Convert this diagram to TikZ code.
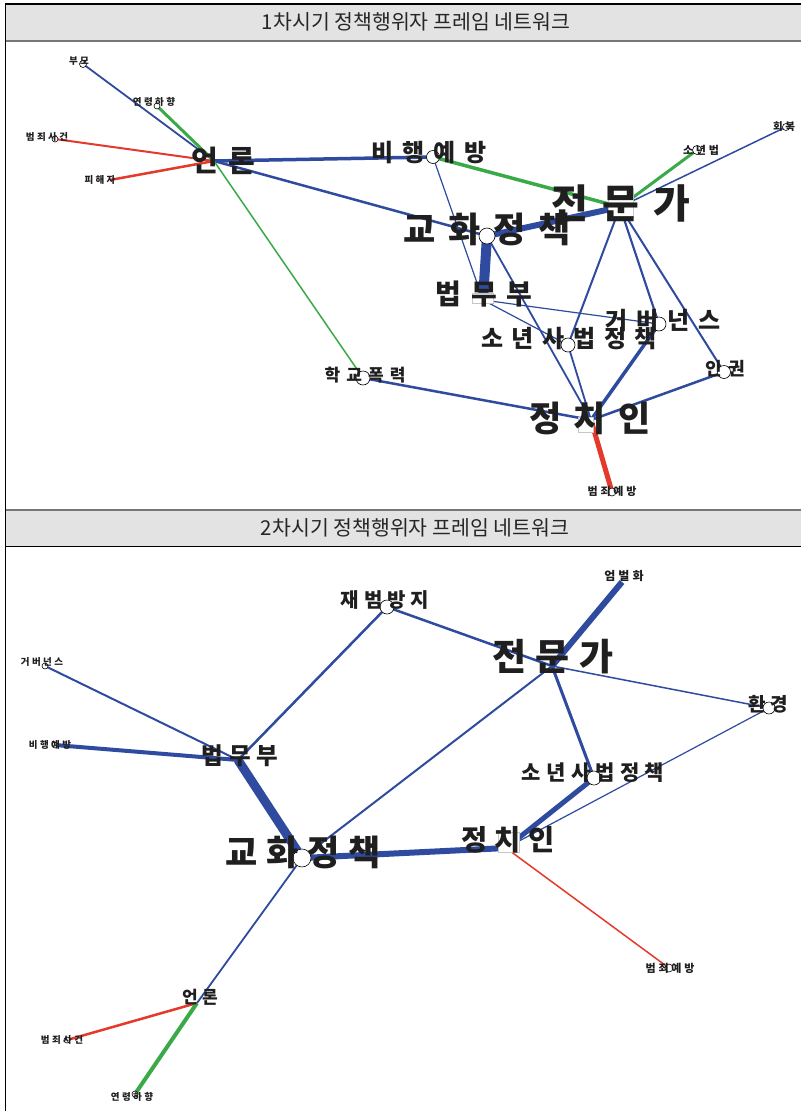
\documentclass[tikz,border=0pt]{standalone}
\usepackage{fontspec}
\setmainfont{Noto Sans CJK KR}
\newfontfamily\labA{Noto Sans CJK KR}[LetterSpace=36]
\newfontfamily\labB{Noto Sans CJK KR}[LetterSpace=25]
\newfontfamily\hdr{Noto Sans CJK KR}
\newcommand\fsz[1]{\fontsize{#1}{#1}\selectfont}
\definecolor{eblue}{HTML}{2F4B9F}
\definecolor{egreen}{HTML}{3AAA48}
\definecolor{ered}{HTML}{E5392B}
\definecolor{hdrfill}{HTML}{E3E3E3}
\definecolor{hdrline}{HTML}{777777}
\begin{document}
\begin{tikzpicture}[x=1pt,y=-1pt,
  eb/.style={draw=eblue},
  eg/.style={draw=egreen},
  er/.style={draw=ered},
  lbl/.style={inner sep=0pt, font=\labA\bfseries, text=black!88},
  lblb/.style={inner sep=0pt, font=\labB\bfseries, text=black!88},
  hub/.style={circle, draw=black, line width=0.6pt, fill=white, inner sep=0pt, minimum size=#1},
  sq/.style={draw=gray!45, line width=0.5pt, fill=white},
  htext/.style={inner sep=0pt, font=\hdr\fsz{20.5}, text=black!85}]
\useasboundingbox (0,0) rectangle (801,1111);
\fill[white] (0,0) rectangle (801,1111);
% headers
\fill[hdrfill] (5.5,4) rectangle (801,40);
\draw[hdrline, line width=2.5] (5.5,41) -- (801,41);
\draw[black, line width=1.4] (5,4) -- (801,4);
\fill[hdrfill] (5.5,510) rectangle (801,546);
\draw[hdrline, line width=2.5] (5.5,510) -- (801,510);
\draw[black, line width=1.2] (5.5,546.5) -- (801,546.5);
\draw[black, line width=1.4] (5.5,4) -- (5.5,1111);
\node[htext] (h1) at (416,22) {1차시기 정책행위자 프레임 네트워크};
\node[htext] (h2) at (415,528) {2차시기 정책행위자 프레임 네트워크};

% ---------- panel 1 hubs ----------
\coordinate (a-bumo) at (83,64);
\coordinate (a-yeon) at (157,106);
\coordinate (a-bjs) at (55,139);
\coordinate (a-phj) at (110,180);
\coordinate (a-un) at (214,161);
\coordinate (a-bh) at (433,157);
\coordinate (a-gh) at (487,236);
\coordinate (a-jm) at (620,207);
\coordinate (a-bm) at (483,300);
\coordinate (a-gb) at (659,324);
\coordinate (a-sn) at (568,345);
\coordinate (a-hk) at (363,378);
\coordinate (a-ig) at (724,372);
\coordinate (a-jc) at (591,420);
\coordinate (a-by) at (612,492);
\coordinate (a-sb) at (697,150);
\coordinate (a-hb) at (786,127);

% ---------- panel 1 edges ----------
\draw[eb, line width=1.8] (a-bumo) -- (a-un);
\draw[eg, line width=3] (a-yeon) -- (a-un);
\draw[er, line width=2] (a-bjs) -- (a-un);
\draw[er, line width=2.5] (a-phj) -- (a-un);
\draw[eb, line width=3.5] (a-un) -- (a-bh);
\draw[eb, line width=2.5] (a-un) -- (a-gh);
\draw[eg, line width=1.5] (a-un) -- (a-hk);
\draw[eg, line width=3.5] (a-bh) -- (a-jm);
\draw[eb, line width=1.2] (a-bh) -- (a-bm);
\draw[eb, line width=6] (a-gh) -- (a-jm);
\draw[eb, line width=10] (a-gh) -- (a-bm);
\draw[eb, line width=1.8] (a-gh) -- (a-jc);
\draw[eb, line width=1.2] (a-bm) -- (a-gb);
\draw[eb, line width=1.2] (a-bm) -- (a-sn);
\draw[eb, line width=1.8] (a-sn) -- (a-jc);
\draw[eb, line width=2] (a-jm) -- (a-sn);
\draw[eb, line width=2.2] (a-jm) -- (a-gb);
\draw[eb, line width=2] (a-jm) -- (a-ig);
\draw[eb, line width=3.5] (a-gb) -- (a-jc);
\draw[eb, line width=2.5] (a-ig) -- (a-jc);
\draw[eb, line width=2.5] (a-hk) -- (a-jc);
\draw[er, line width=5] (a-jc) -- (a-by);
\draw[eg, line width=3] (a-jm) -- (a-sb);
\draw[eb, line width=1.5] (a-jm) -- (a-hb);

% ---------- panel 1 markers ----------
\node[hub=7pt] (a-bumo-m) at (a-bumo) {};
\node[hub=6pt] (a-yeon-m) at (a-yeon) {};
\node[hub=6pt] (a-bjs-m) at (a-bjs) {};
\node[hub=13pt] (a-bh-m) at (a-bh) {};
\node[hub=16pt] (a-gh-m) at (a-gh) {};
\node[hub=14pt] (a-gb-m) at (a-gb) {};
\node[hub=14pt] (a-sn-m) at (a-sn) {};
\node[hub=14pt] (a-hk-m) at (a-hk) {};
\node[hub=13pt] (a-ig-m) at (a-ig) {};
\node[hub=8pt] (a-by-m) at (a-by) {};
\node[hub=9pt] (a-sb-m) at (a-sb) {};
\node[hub=7pt] (a-hb-m) at (a-hb) {};
\fill[sq] (608,188) rectangle (633,217);
\fill[sq] (472,293) rectangle (493,303);
\fill[sq] (578,417) rectangle (593,432);

% ---------- panel 1 labels ----------
\node[lblb] (a-bumo-l) at (79,61) {\fsz{9.5}부모};
\node[lblb] (a-yeon-l) at (154,102) {\fsz{9.5}연령하향};
\node[lblb] (a-bjs-l) at (47,137) {\fsz{9.5}범죄사건};
\node[lblb] (a-phj-l) at (100,180) {\fsz{9.5}피해자};
\node[lbl] (a-un-l) at (223,161) {\fsz{29}언론};
\node[lbl] (a-bh-l) at (429,153) {\fsz{24}비행예방};
\node[lbl] (a-gh-l) at (487,229) {\fsz{35}교화정책};
\node[lbl] (a-jm-l) at (621,203) {\fsz{40}전문가};
\node[lbl] (a-bm-l) at (484,294) {\fsz{28}법무부};
\node[lbl] (a-gb-l) at (663,321) {\fsz{24}거버넌스};
\node[lbl] (a-sn-l) at (569,339) {\fsz{24}소년사법정책};
\node[lbl] (a-hk-l) at (365,375) {\fsz{17}학교폭력};
\node[lbl] (a-ig-l) at (725,369) {\fsz{18}인권};
\node[lbl] (a-jc-l) at (590,418) {\fsz{35}정치인};
\node[lblb] (a-by-l) at (612,491) {\fsz{11}범죄예방};
\node[lblb] (a-sb-l) at (701,150) {\fsz{11}소년법};
\node[lblb] (a-hb-l) at (784,127) {\fsz{10.5}회복};

% ---------- panel 2 hubs ----------
\coordinate (b-jb) at (387,607);
\coordinate (b-ub) at (622,582);
\coordinate (b-jm) at (552,666);
\coordinate (b-hg) at (769,708);
\coordinate (b-gb) at (45,666);
\coordinate (b-bh) at (55,745);
\coordinate (b-bm) at (238,760);
\coordinate (b-sn) at (594,778);
\coordinate (b-gh) at (302,858);
\coordinate (b-jc) at (506,848);
\coordinate (b-by) at (669,968);
\coordinate (b-un) at (197,1003);
\coordinate (b-bjs) at (67,1040);
\coordinate (b-yeon) at (135,1094);

% ---------- panel 2 edges ----------
\draw[eb, line width=2.5] (b-jb) -- (b-bm);
\draw[eb, line width=2.5] (b-jb) -- (b-jm);
\draw[eb, line width=6] (b-jm) -- (b-ub);
\draw[eb, line width=1.5] (b-jm) -- (b-hg);
\draw[eb, line width=2] (b-jm) -- (b-gh);
\draw[eb, line width=3] (b-jm) -- (b-sn);
\draw[eb, line width=1.2] (b-hg) -- (b-jc);
\draw[eb, line width=2] (b-gb) -- (b-bm);
\draw[eb, line width=4] (b-bh) -- (b-bm);
\draw[eb, line width=9] (b-bm) -- (b-gh);
\draw[eb, line width=6] (b-gh) -- (b-jc);
\draw[eb, line width=1.8] (b-gh) -- (b-un);
\draw[eb, line width=5] (b-jc) -- (b-sn);
\draw[er, line width=1.5] (b-jc) -- (b-by);
\draw[er, line width=2.5] (b-un) -- (b-bjs);
\draw[eg, line width=4] (b-un) -- (b-yeon);

% ---------- panel 2 markers ----------
\node[hub=14pt] (b-jb-m) at (b-jb) {};
\node[hub=12pt] (b-hg-m) at (b-hg) {};
\node[hub=14pt] (b-sn-m) at (b-sn) {};
\node[hub=18pt] (b-gh-m) at (b-gh) {};
\node[hub=8pt] (b-by-m) at (b-by) {};
\node[hub=6pt] (b-bjs-m) at (b-bjs) {};
\node[hub=6pt] (b-yeon-m) at (b-yeon) {};
\node[hub=6pt] (b-gb-m) at (b-gb) {};
\node[hub=6pt] (b-bh-m) at (b-bh) {};
\fill[sq] (498,832) rectangle (519,852);

% ---------- panel 2 labels ----------
\node[lblb] (b-jb-l) at (385,600) {\fsz{20}재범방지};
\node[lblb] (b-ub-l) at (624,576) {\fsz{12}엄벌화};
\node[lblb] (b-jm-l) at (553,657) {\fsz{37}전문가};
\node[lblb] (b-hg-l) at (768,704) {\fsz{19}환경};
\node[lblb] (b-gb-l) at (42,662) {\fsz{9.5}거버넌스};
\node[lblb] (b-bh-l) at (50,745) {\fsz{9.5}비행예방};
\node[lblb] (b-bm-l) at (240,756) {\fsz{23.5}법무부};
\node[lblb] (b-sn-l) at (593,773) {\fsz{21}소년사법정책};
\node[lblb] (b-gh-l) at (303,852) {\fsz{35}교화정책};
\node[lblb] (b-jc-l) at (508,840) {\fsz{28.5}정치인};
\node[lblb] (b-by-l) at (670,968) {\fsz{11}범죄예방};
\node[lblb] (b-un-l) at (200,997) {\fsz{17}언론};
\node[lblb] (b-bjs-l) at (62,1040) {\fsz{9.5}범죄사건};
\node[lblb] (b-yeon-l) at (132,1097) {\fsz{9.5}연령하향};
\end{tikzpicture}
\end{document}
